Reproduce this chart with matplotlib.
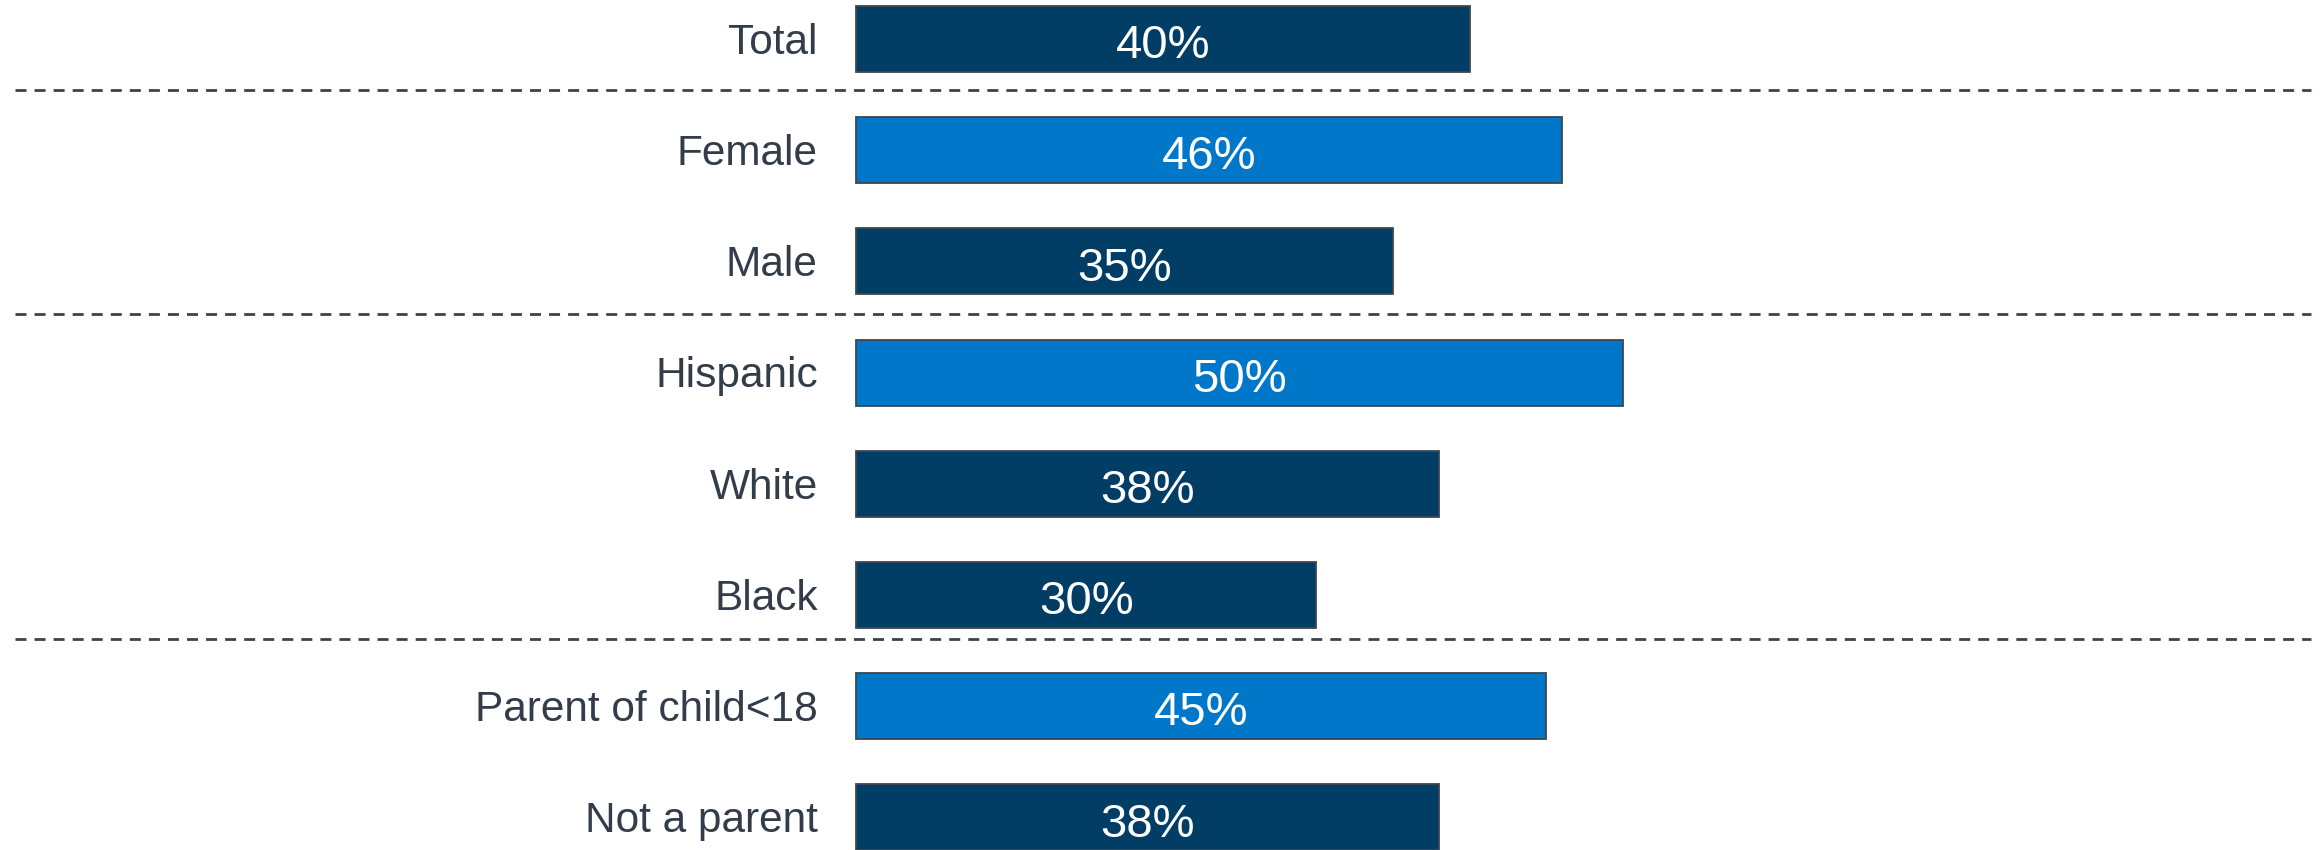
import matplotlib
matplotlib.use("Agg")
import matplotlib.pyplot as plt

categories = ["Total", "Female", "Male", "Hispanic", "White", "Black",
              "Parent of child<18", "Not a parent"]
values = [40, 46, 35, 50, 38, 30, 45, 38]
highlight = [False, True, False, True, False, False, True, False]
value_labels = ["40%", "46%", "35%", "50%", "38%", "30%", "45%", "38%"]
separators = [0.459, 2.473, 5.396]

NAVY = "#023D66"
BLUE = "#0077C8"
EDGE = "#3E4652"
TEXT = "#333D4A"
DASH = "#3B4350"

plt.rcParams["font.family"] = ["Liberation Sans", "DejaVu Sans"]

fig = plt.figure(figsize=(23.23, 8.5), dpi=100)
ax = fig.add_axes([0, 0, 1, 1])
ax.set_axis_off()

ypos = list(range(len(categories)))
colors = [BLUE if h else NAVY for h in highlight]
ax.barh(ypos, values, height=0.594, color=colors, edgecolor=EDGE, linewidth=1.3)

ax.set_xlim(-55.80, 95.63)
ax.set_ylim(7.293, -0.3507)

for y, cat, v, lab in zip(ypos, categories, values, value_labels):
    ax.annotate(cat, xy=(0, y), xytext=(-27.5, -10.7), textcoords="offset points",
                ha="right", va="baseline", fontsize=30.5, color=TEXT)
    ax.annotate(lab, xy=(v / 2, y), xytext=(0, -13.8), textcoords="offset points",
                ha="center", va="baseline", fontsize=34, color="white")

for s in separators:
    ln, = ax.plot([0.0063, 0.9948], [s, s], transform=ax.get_yaxis_transform(),
                  color=DASH, linewidth=2.0, clip_on=False)
    ln.set_dashes((3.96, 2.9))

fig.savefig("out.png", dpi=100)
